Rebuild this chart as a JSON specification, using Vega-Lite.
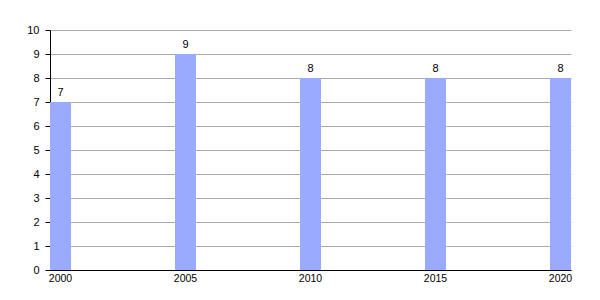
{
  "$schema": "https://vega.github.io/schema/vega-lite/v6.json",
  "width": 521,
  "height": 240,
  "autosize": {"type": "none"},
  "padding": {"left": 50, "top": 30, "right": 29, "bottom": 30},
  "background": "white",
  "config": {
    "view": {"stroke": null},
    "font": "Liberation Sans",
    "axis": {"labelFont": "Liberation Sans", "labelColor": "#000", "labelFontSize": 11, "titleFontSize": 11}
  },
  "data": {
    "values": [
      {"year": 2000, "value": 7},
      {"year": 2005, "value": 9},
      {"year": 2010, "value": 8},
      {"year": 2015, "value": 8},
      {"year": 2020, "value": 8}
    ]
  },
  "encoding": {
    "x": {
      "field": "year",
      "type": "ordinal",
      "scale": {
        "domain": [2000,2001,2002,2003,2004,2005,2006,2007,2008,2009,2010,2011,2012,2013,2014,2015,2016,2017,2018,2019,2020],
        "paddingInner": 0.16,
        "paddingOuter": 0
      },
      "axis": {
        "values": [2000, 2005, 2010, 2015, 2020],
        "title": null,
        "labelAngle": 0,
        "ticks": false,
        "labelPadding": 3,
        "labelFontSize": 10.5,
        "domainColor": "#000",
        "domainWidth": 1,
        "grid": false
      }
    },
    "y": {
      "field": "value",
      "type": "quantitative",
      "scale": {"domain": [0, 10], "nice": false},
      "axis": {
        "values": [0,1,2,3,4,5,6,7,8,9,10],
        "title": null,
        "grid": true,
        "gridColor": "#aaaaaa",
        "gridWidth": 1,
        "domainColor": "#000",
        "tickColor": "#000",
        "tickSize": 5,
        "labelPadding": 6,
        "labelFontSize": 11
      }
    }
  },
  "layer": [
    {"mark": {"type": "bar", "color": "#99aaff"}},
    {
      "mark": {"type": "text", "baseline": "bottom", "dy": -4, "fontSize": 11, "color": "#000"},
      "encoding": {"text": {"field": "value", "type": "quantitative"}}
    }
  ]
}
